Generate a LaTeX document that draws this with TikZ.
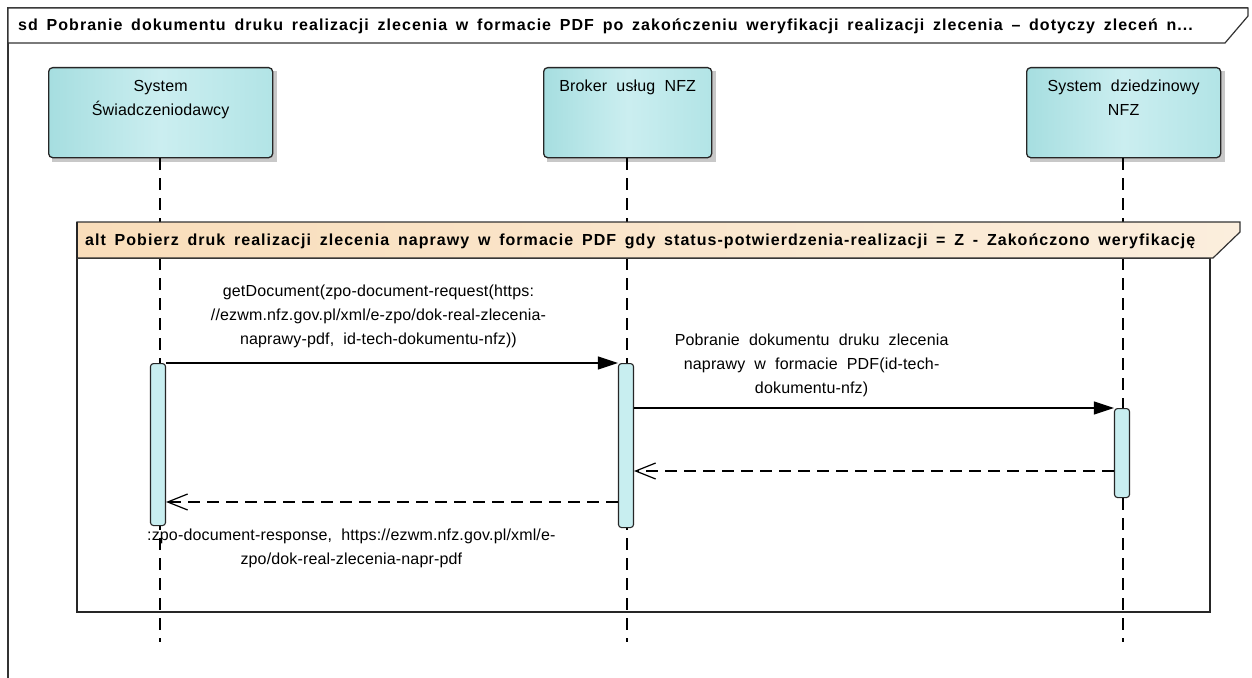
\documentclass[tikz,border=0pt]{standalone}
\usepackage{fontspec}
\setmainfont{Liberation Sans}
\newfontfamily\lblfont[WordSpace=2.0,LetterSpace=1]{Liberation Sans}
\newfontfamily\ttlfont[WordSpace=1.6,LetterSpace=6.5]{Liberation Sans}
\usetikzlibrary{arrows.meta,calc}
\definecolor{llL}{HTML}{A6DEE0}
\definecolor{llM}{HTML}{CBEEF0}
\definecolor{llR}{HTML}{B2E4E6}
\definecolor{actfill}{HTML}{C8EEF0}
\definecolor{altL}{HTML}{F9DDBA}
\definecolor{altR}{HTML}{FBEEDD}
\definecolor{shadowc}{HTML}{C8C8C8}
\tikzset{
  headbox/.style={draw=black!85, line width=1.3pt, rounded corners=4pt,
    left color=llL, right color=llR, middle color=llM,
    minimum width=#1, minimum height=90pt, inner sep=0pt, anchor=north west},
  headtext/.style={align=center, anchor=north, inner sep=0pt,
    font=\lblfont\fontsize{16}{24}\selectfont},
  actbar/.style={draw=black!85, line width=1.1pt, fill=actfill, rounded corners=3pt,
    minimum width=15pt, minimum height=#1, inner sep=0pt, anchor=north},
  lifeline/.style={line width=1.3pt, dash pattern=on 12pt off 8pt},
  callmsg/.style={line width=1.2pt, -{Triangle[length=20pt,width=13pt]}},
  retmsg/.style={line width=1.2pt, dash pattern=on 12pt off 7pt, -{Straight Barb[length=20pt,width=16pt,line width=1.2pt]}},
  msglabel/.style={align=center, inner sep=0pt, font=\lblfont\fontsize{16}{24}\selectfont},
  frametitle/.style={anchor=west, inner sep=0pt, font=\ttlfont\bfseries\fontsize{16}{18}\selectfont},
}
\begin{document}
\begin{tikzpicture}[x=1pt,y=-1pt]
\useasboundingbox[fill=white] (0,0) rectangle (1252,677);

% outer sd frame
\draw[line width=1.2pt, black!80] (8,700) -- (8,8) -- (1248,8);
\draw[line width=1.2pt, black!80, fill=white] (8,8) -- (1248,8) -- (1248,16) -- (1225,43) -- (8,43) -- cycle;
\node[frametitle] (sdtitle) at (18,26) {sd Pobranie dokumentu druku realizacji zlecenia w formacie PDF po zakończeniu weryfikacji realizacji zlecenia – dotyczy zleceń n...};

% lifeline heads (shadows)
\fill[shadowc] (52,71) rectangle (277,162);
\fill[shadowc] (547,71) rectangle (716,162);
\fill[shadowc] (1030,71) rectangle (1225,162);
\node[headbox=224pt] (hS) at (48,67) {};
\node[headbox=168pt] (hB) at (543,67) {};
\node[headbox=194pt] (hN) at (1026,67) {};
\node[headtext] (tS) at ($(hS.north)+(0,13)$) {System\\Świadczeniodawcy};
\node[headtext] (tB) at ($(hB.north)+(0,13)$) {Broker usług NFZ};
\node[headtext] (tN) at ($(hN.north)+(0,13)$) {System dziedzinowy\\NFZ};

% lifelines
\coordinate (eS) at (160,642);
\coordinate (eB) at (627,642);
\coordinate (eN) at (1123,642);
\draw[lifeline] (hS.south -| eS) -- (eS);
\draw[lifeline] (hB.south -| eB) -- (eB);
\draw[lifeline] (hN.south -| eN) -- (eN);

% alt frame
\draw[line width=2pt, black!85] (77,258) rectangle (1210,612);
\draw[line width=1.2pt, black!80, left color=altL, right color=altR]
  (77,222) -- (1240,222) -- (1240,232) -- (1213,258) -- (77,258) -- cycle;
\draw[line width=2pt, black!85] (77,222) -- (77,258);
\node[frametitle] (alttitle) at (85,241) {alt Pobierz druk realizacji zlecenia naprawy w formacie PDF gdy status-potwierdzenia-realizacji = Z - Zakończono weryfikację};

% activation bars
\node[actbar=162pt] (aS) at (158,363) {};
\node[actbar=164pt] (aB) at (626,363) {};
\node[actbar=89pt] (aN) at (1122,408) {};

% messages
\draw[callmsg] (aS.north east) -- (aB.north west)
  node[msglabel, pos=0.47, above=15pt] (m1) {getDocument(zpo-document-request(https:\\//ezwm.nfz.gov.pl/xml/e-zpo/dok-real-zlecenia-\\naprawy-pdf, id-tech-dokumentu-nfz))};
\draw[callmsg] (aB.east |- aN.north) -- (aN.north west)
  node[msglabel, pos=0.37, above=11pt] (m2) {Pobranie dokumentu druku zlecenia\\naprawy w formacie PDF(id-tech-\\dokumentu-nfz)};
\coordinate (r2) at (aN.west |- 0,471);
\draw[retmsg] (r2) -- (aB.east |- r2);
\coordinate (r1) at (aB.west |- 0,502);
\draw[retmsg] (r1) -- (aS.east |- r1)
  node[msglabel, pos=0.59, below=26pt] (m3) {:zpo-document-response, https://ezwm.nfz.gov.pl/xml/e-\\zpo/dok-real-zlecenia-napr-pdf};
\end{tikzpicture}
\end{document}
